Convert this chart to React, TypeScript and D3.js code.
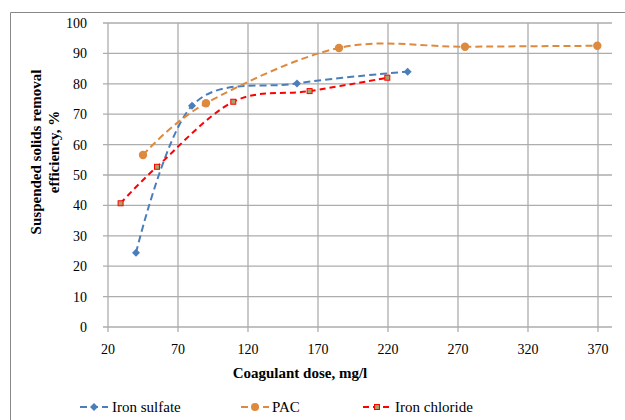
import React from "react";
import * as d3 from "d3";

const xTicks = [20, 70, 120, 170, 220, 270, 320, 370];
const yTicks = [0, 10, 20, 30, 40, 50, 60, 70, 80, 90, 100];

const sulfateX = [40, 80, 155, 234];
const sulfateY = [24.4, 72.8, 80.1, 84];
const pacX = [45, 90, 185, 275, 369.5];
const pacY = [56.6, 73.6, 91.8, 92.2, 92.5];
const chlorideX = [29, 55, 109.5, 164, 219.5];
const chlorideY = [40.7, 52.7, 74.1, 77.6, 82];

const BLUE = "#4A7EBB";
const ORANGE = "#DE8A3E";
const RED = "#FF0000";
const MFILL = "#A9A265";
const FONT = "Liberation Serif, Tinos, Times New Roman, Times, Noto Serif, DejaVu Serif, serif";

export default function App() {
  const x = d3.scaleLinear().domain([20, 380]).range([108, 612]);
  const y = d3.scaleLinear().domain([0, 100]).range([327, 23]);
  const line = d3
    .line<[number, number]>()
    .x((d) => x(d[0]))
    .y((d) => y(d[1]))
    .curve(d3.curveCardinal.tension(0));

  const zip = (xs: number[], ys: number[]) => xs.map((v, i) => [v, ys[i]] as [number, number]);
  const sulfate = zip(sulfateX, sulfateY);
  const pac = zip(pacX, pacY);
  const chloride = zip(chlorideX, chlorideY);

  const grid = "#ADADAD";
  const diamond = (cx: number, cy: number, s: number) =>
    `M${cx},${cy - s}L${cx + s},${cy}L${cx},${cy + s}L${cx - s},${cy}Z`;

  return (
    <svg width={625} height={420} style={{ position: "absolute", left: 0, top: 0 }}>
      <rect x={0} y={0} width={625} height={420} fill="#fff" />
      <path d="M10.5,430V12.5H640" fill="none" stroke="#888" strokeWidth={1} />
      {yTicks.map((t) => (
        <line key={"h" + t} x1={103} x2={612} y1={y(t)} y2={y(t)} stroke={grid} strokeWidth={1.3} />
      ))}
      {xTicks.map((t) => (
        <line key={"v" + t} x1={x(t)} x2={x(t)} y1={y(100)} y2={y(0) + 5} stroke={grid} strokeWidth={1.3} />
      ))}
      {yTicks.map((t) => (
        <text key={"yl" + t} x={87} y={y(t) + 5} fontFamily={FONT} fontSize={14} textAnchor="end" fill="#000">
          {t}
        </text>
      ))}
      {xTicks.map((t) => (
        <text key={"xl" + t} x={x(t)} y={354} fontFamily={FONT} fontSize={14} textAnchor="middle" fill="#000">
          {t}
        </text>
      ))}
      <path d={line(sulfate) || ""} fill="none" stroke={BLUE} strokeWidth={2} strokeDasharray="7,4" />
      <path d={line(pac) || ""} fill="none" stroke={ORANGE} strokeWidth={2} strokeDasharray="7,4" />
      <path d={line(chloride) || ""} fill="none" stroke={RED} strokeWidth={2} strokeDasharray="6,4" />
      {sulfate.map((d, i) => (
        <path key={"s" + i} d={diamond(x(d[0]), y(d[1]), 4)} fill={BLUE} />
      ))}
      {pac.map((d, i) => (
        <circle key={"p" + i} cx={x(d[0])} cy={y(d[1])} r={4.2} fill={ORANGE} />
      ))}
      {chloride.map((d, i) => (
        <rect key={"c" + i} x={x(d[0]) - 2.5} y={y(d[1]) - 2.5} width={5} height={5} fill={MFILL} stroke={RED} strokeWidth={1} />
      ))}
      <text x={300} y={378} fontFamily={FONT} fontSize={15} fontWeight="bold" textAnchor="middle">
        Coagulant dose, mg/l
      </text>
      <g transform="translate(44,152) rotate(-90)">
        <text x={0} y={-3} fontFamily={FONT} fontSize={15} fontWeight="bold" textAnchor="middle">
          Suspended solids removal
        </text>
        <text x={0} y={15} fontFamily={FONT} fontSize={15} fontWeight="bold" textAnchor="middle">
          efficiency, %
        </text>
      </g>
      <g>
        <line x1={80} x2={108} y1={407} y2={407} stroke={BLUE} strokeWidth={2} strokeDasharray="7,4" />
        <path d={diamond(94, 407, 4)} fill={BLUE} />
        <text x={112} y={412} fontFamily={FONT} fontSize={15}>Iron sulfate</text>
        <line x1={241} x2={269} y1={407} y2={407} stroke={ORANGE} strokeWidth={2} strokeDasharray="7,4" />
        <circle cx={255} cy={407} r={4} fill={ORANGE} />
        <text x={272} y={412} fontFamily={FONT} fontSize={15}>PAC</text>
        <line x1={363} x2={391} y1={407} y2={407} stroke={RED} strokeWidth={2} strokeDasharray="6,4" />
        <rect x={374.5} y={404.5} width={5} height={5} fill={MFILL} stroke={RED} strokeWidth={1} />
        <text x={395} y={412} fontFamily={FONT} fontSize={15}>Iron chloride</text>
      </g>
    </svg>
  );
}
